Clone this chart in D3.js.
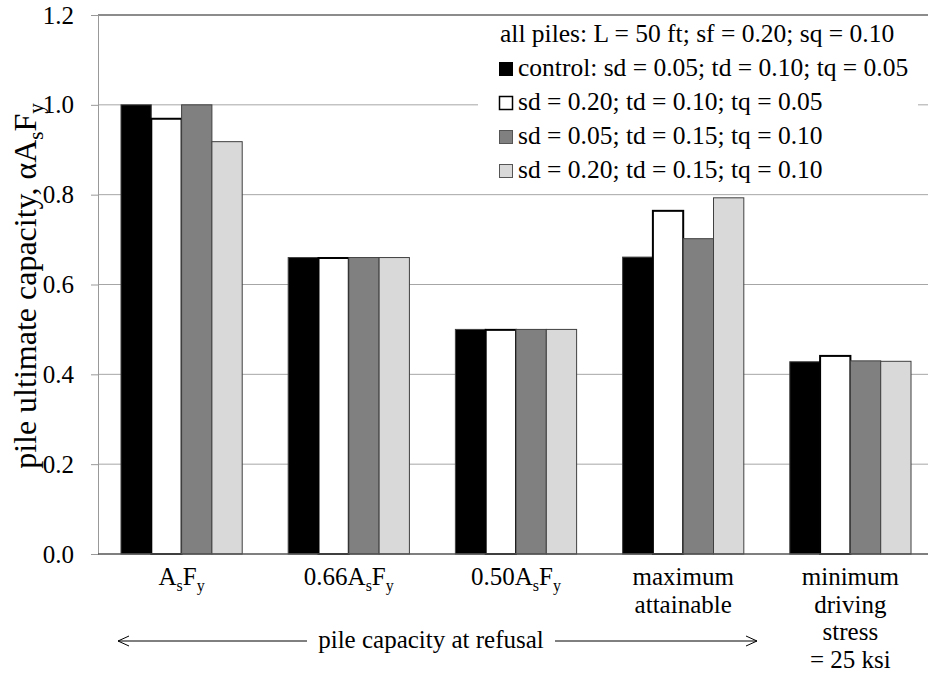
<!DOCTYPE html>
<html lang="en">
<head>
<meta charset="utf-8">
<title>Pile ultimate capacity</title>
<script src="https://cdnjs.cloudflare.com/ajax/libs/d3/7.8.5/d3.min.js"></script>
<style>
  body { margin: 0; background: #fff; }
  svg, svg text { font-family: "Liberation Serif", "Times New Roman", serif; }
  .bar { stroke: #404040; stroke-width: 1px; }
</style>
</head>
<body>
<script>
// x categories; "_" marks the next character as a subscript, "|" breaks the line
var categories = ["A_sF_y", "0.66A_sF_y", "0.50A_sF_y", "maximum|attainable", "minimum|driving|stress|= 25 ksi"];

// one array per series
var control  = [1.000, 0.660, 0.500, 0.661, 0.428];
var sd20     = [0.969, 0.659, 0.499, 0.764, 0.441];
var td15     = [1.000, 0.660, 0.500, 0.702, 0.430];
var sd20td15 = [0.918, 0.660, 0.500, 0.793, 0.429];

var seriesNames  = ["control: sd = 0.05; td = 0.10; tq = 0.05",
                    "sd = 0.20; td = 0.10; tq = 0.05",
                    "sd = 0.05; td = 0.15; tq = 0.10",
                    "sd = 0.20; td = 0.15; tq = 0.10"];
var seriesFills  = ["#000000", "#ffffff", "#808080", "#d9d9d9"];
var legendTitle  = "all piles: L = 50 ft; sf = 0.20; sq = 0.10";

var yTicks = [0.0, 0.2, 0.4, 0.6, 0.8, 1.0, 1.2];
var yLabel = "pile ultimate capacity, \u03b1A_sF_y";
var arrowText = "pile capacity at refusal";

var width = 928, height = 676;
var margin = {top: 15, right: -6, bottom: 122, left: 98};

var seriesValues = [control, sd20, td15, sd20td15];

var svg = d3.select("body").append("svg")
    .attr("width", width)
    .attr("height", height);

var x = d3.scaleBand()
    .domain(categories)
    .range([margin.left, width - margin.right])
    .paddingInner(0.275)
    .paddingOuter(0.1375);

var xs = d3.scaleBand()
    .domain(d3.range(seriesValues.length))
    .range([0, x.bandwidth()]);

var y = d3.scaleLinear()
    .domain([0, 1.2])
    .range([height - margin.bottom, margin.top]);

// write a string with "_" subscripts into a text element
function richText(sel, str, subSize, drop) {
  var parts = [], i = 0, buf = "";
  while (i < str.length) {
    if (str[i] === "_") {
      if (buf) parts.push([buf, false]);
      buf = "";
      parts.push([str[i + 1], true]);
      i += 2;
    } else { buf += str[i]; i++; }
  }
  if (buf) parts.push([buf, false]);
  var shift = 0;
  parts.forEach(function(p) {
    var t = sel.append("tspan").text(p[0]);
    if (p[1]) {
      t.attr("font-size", subSize).attr("dy", drop - shift);
      shift = drop;
    } else if (shift) {
      t.attr("dy", -shift);
      shift = 0;
    }
  });
}

// gridlines
svg.append("g")
  .selectAll("line")
  .data(yTicks.slice(1))
  .join("line")
    .attr("x1", margin.left)
    .attr("x2", width)
    .attr("y1", function(d) { return y(d); })
    .attr("y2", function(d) { return y(d); })
    .attr("stroke", function(d) { return d === 1.2 ? "#666" : "#a6a6a6"; })
    .attr("stroke-width", function(d) { return d === 1.2 ? 1.5 : 1; });

// legend box sits over the gridlines
svg.append("rect")
    .attr("x", 478).attr("y", margin.top + 1)
    .attr("width", 440).attr("height", 174)
    .attr("fill", "#fff");

// y axis
var yAxis = svg.append("g")
    .attr("transform", "translate(" + margin.left + ",0)")
    .call(d3.axisLeft(y).tickValues(yTicks).tickSize(7).tickPadding(17)
      .tickFormat(d3.format(".1f")))
    .attr("font-family", "Liberation Serif, Times New Roman, serif")
    .attr("font-size", 25);
yAxis.select(".domain").attr("stroke", "#999");
yAxis.selectAll(".tick line").attr("stroke", "#999");
yAxis.selectAll(".tick text").attr("fill", "#000");

// bars
var groups = svg.append("g")
  .selectAll("g")
  .data(seriesValues)
  .join("g");

groups.selectAll("rect")
  .data(function(vals, si) {
    return vals.map(function(v, ci) { return {s: si, c: categories[ci], v: v}; });
  })
  .join("rect")
    .attr("class", "bar")
    .attr("x", function(d) { return x(d.c) + xs(d.s); })
    .attr("y", function(d) { return y(d.v); })
    .attr("width", xs.bandwidth())
    .attr("height", function(d) { return y(0) - y(d.v); })
    .attr("fill", function(d) { return seriesFills[d.s]; })
    .style("stroke", function(d) { return d.s === 1 ? "#000" : null; })
    .style("stroke-width", function(d) { return d.s === 1 ? 2 : null; });

// x axis line
svg.append("line")
    .attr("x1", margin.left).attr("x2", width)
    .attr("y1", y(0)).attr("y2", y(0))
    .attr("stroke", "#555").attr("stroke-width", 1.5);

// x category labels
categories.forEach(function(c) {
  var lines = c.split("|");
  lines.forEach(function(l, i) {
    var t = svg.append("text")
        .attr("x", x(c) + x.bandwidth() / 2)
        .attr("y", 585 + i * 27.5)
        .attr("text-anchor", "middle")
        .attr("font-size", 25);
    richText(t, l, 16, 6);
  });
});

// y axis title
var yt = svg.append("text")
    .attr("transform", "translate(36," + 286 + ") rotate(-90)")
    .attr("text-anchor", "middle")
    .attr("font-size", 32);
richText(yt, yLabel, 21, 7);

// legend
var legend = svg.append("g");
legend.append("text")
    .attr("x", 500).attr("y", 42)
    .attr("font-size", 25.5)
    .text(legendTitle);
seriesNames.forEach(function(n, i) {
  var by = 76 + i * 34;
  legend.append("rect")
      .attr("x", 499.5).attr("y", by - 13.5)
      .attr("width", 13).attr("height", 13)
      .attr("fill", seriesFills[i])
      .attr("stroke", i < 2 ? "#000" : "#555")
      .attr("stroke-width", i === 1 ? 1.5 : 1);
  legend.append("text")
      .attr("x", 518).attr("y", by)
      .attr("font-size", 25.5)
      .text(n);
});

// refusal arrows
var defs = svg.append("defs");
defs.append("marker")
    .attr("id", "head")
    .attr("viewBox", "0 -6 12 12")
    .attr("refX", 11).attr("refY", 0)
    .attr("markerWidth", 12).attr("markerHeight", 12)
    .attr("markerUnits", "userSpaceOnUse")
    .attr("orient", "auto")
  .append("path")
    .attr("d", "M0,-5L11,0L0,5")
    .attr("fill", "none")
    .attr("stroke", "#000");

svg.append("line")
    .attr("x1", 307).attr("x2", 118)
    .attr("y1", 641).attr("y2", 641)
    .attr("stroke", "#000").attr("marker-end", "url(#head)");
svg.append("line")
    .attr("x1", 555).attr("x2", 757)
    .attr("y1", 641).attr("y2", 641)
    .attr("stroke", "#000").attr("marker-end", "url(#head)");
svg.append("text")
    .attr("x", 431).attr("y", 648)
    .attr("text-anchor", "middle")
    .attr("font-size", 25)
    .text(arrowText);
</script>
</body>
</html>
